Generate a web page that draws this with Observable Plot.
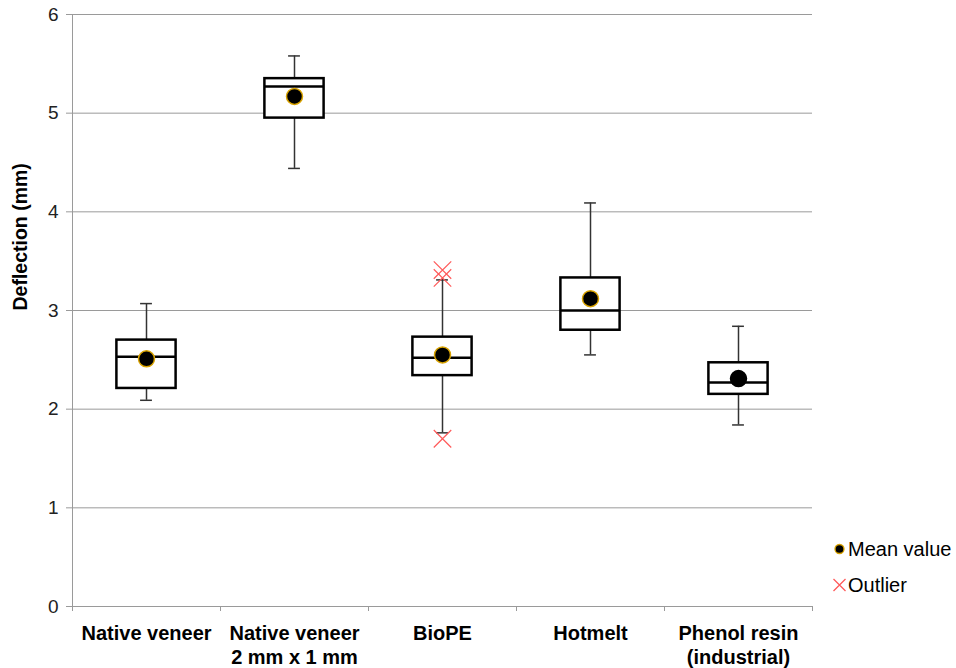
<!DOCTYPE html>
<html>
<head>
<meta charset="utf-8">
<script src="https://cdn.jsdelivr.net/npm/d3@7"></script>
<script src="https://cdn.jsdelivr.net/npm/@observablehq/plot@0.6"></script>
<style>
  body { margin: 0; background: white; }
  #wrap { position: relative; width: 956px; height: 668px; font-family: "Liberation Sans", Arial, sans-serif; }
  #legend { position: absolute; left: 831px; top: 531px; font-size: 20px; color: #000; }
  #legend .row { display: flex; align-items: center; height: 36px; }
  #legend svg { width: 17px; height: 18px; margin-right: 0px; }
</style>
</head>
<body>
<div id="wrap"></div>
<script>
const categories = ["Native veneer", "Native veneer\n2 mm x 1 mm", "BioPE", "Hotmelt", "Phenol resin\n(industrial)"];
const whiskerLow  = [2.09, 4.44, 1.76, 2.55, 1.84];
const q1          = [2.21, 4.95, 2.34, 2.80, 2.15];
const median      = [2.53, 5.27, 2.52, 3.00, 2.27];
const q3          = [2.70, 5.35, 2.73, 3.33, 2.47];
const whiskerHigh = [3.07, 5.58, 3.31, 4.09, 2.84];
const means       = [2.51, 5.17, 2.55, 3.12, 2.31];
const outlierCategory = ["BioPE", "BioPE", "BioPE"];
const outlierValue    = [3.41, 3.33, 1.70];
const yTicks = [0, 1, 2, 3, 4, 5, 6];
const yLabel = "Deflection (mm)";
const legendLabels = ["Mean value", "Outlier"];

const gray = "#9a9a9a";
const mid = (d, i) => i + 0.5;

const chart = Plot.plot({
  width: 956,
  height: 668,
  marginLeft: 72,
  marginRight: 144,
  marginTop: 14,
  marginBottom: 62,
  x: {domain: [0, categories.length], axis: null},
  y: {domain: [0, 6], axis: null},
  style: {fontFamily: "'Liberation Sans', Arial, sans-serif", fontSize: "19px", color: "#000", background: "white"},
  marks: [
    Plot.gridY(yTicks, {stroke: gray, strokeOpacity: 1}),
    Plot.axisY(yTicks, {tickSize: 6, tickPadding: 8, tickFormat: d => String(d), label: null, stroke: gray, fill: "#222", fontSize: 19}),
    Plot.axisX(d3.range(categories.length + 1), {tickSize: 5, tickFormat: () => "", stroke: gray, label: null}),
    Plot.ruleX([0], {stroke: gray}),
    Plot.ruleY([0], {stroke: gray}),
    Plot.text([yLabel], {frameAnchor: "left", rotate: -90, dx: -52, fontWeight: "bold", fontSize: 19.5}),
    Plot.text(categories, {x: mid, y: 0, text: d => d, dy: 16, lineAnchor: "top", fontWeight: "bold", fontSize: 20, lineHeight: 1.2, fill: "#000"}),
    // whiskers
    Plot.ruleX(categories, {x: mid, y1: (d, i) => q3[i], y2: (d, i) => whiskerHigh[i], stroke: "#333", strokeWidth: 1.5}),
    Plot.ruleX(categories, {x: mid, y1: (d, i) => whiskerLow[i], y2: (d, i) => q1[i], stroke: "#333", strokeWidth: 1.5}),
    Plot.ruleY(categories, {y: (d, i) => whiskerHigh[i], x1: (d, i) => i + 0.46, x2: (d, i) => i + 0.54, stroke: "#333", strokeWidth: 1.5}),
    Plot.ruleY(categories, {y: (d, i) => whiskerLow[i], x1: (d, i) => i + 0.46, x2: (d, i) => i + 0.54, stroke: "#333", strokeWidth: 1.5}),
    // boxes
    Plot.rect(categories, {x1: (d, i) => i + 0.3, x2: (d, i) => i + 0.7, y1: (d, i) => q1[i], y2: (d, i) => q3[i], fill: "white", stroke: "black", strokeWidth: 2.5}),
    Plot.ruleY(categories, {y: (d, i) => median[i], x1: (d, i) => i + 0.3, x2: (d, i) => i + 0.7, stroke: "black", strokeWidth: 2.5}),
    // outliers
    Plot.dot(outlierValue, {x: (d, i) => categories.indexOf(outlierCategory[i]) + 0.5, y: d => d, symbol: "times", r: 8, stroke: "#ff5a5a", strokeWidth: 1.2}),
    // means
    Plot.dot(categories, {x: mid, y: (d, i) => means[i], r: 8, fill: "black", stroke: (d, i) => i < 4 ? "#d9a300" : "black", strokeWidth: 1.5})
  ]
});

const wrap = document.getElementById("wrap");
wrap.appendChild(chart);

const legend = document.createElement("div");
legend.id = "legend";
legend.innerHTML = `
  <div class="row"><svg viewBox="-8.5 -9 17 18"><circle r="4.5" fill="black" stroke="#d9a300" stroke-width="1.3"/></svg><span>${legendLabels[0]}</span></div>
  <div class="row"><svg viewBox="-8.5 -9 17 18"><path d="M-6,-6L6,6M-6,6L6,-6" stroke="#ff5a5a" stroke-width="1.3" fill="none"/></svg><span>${legendLabels[1]}</span></div>`;
wrap.appendChild(legend);
</script>
</body>
</html>
